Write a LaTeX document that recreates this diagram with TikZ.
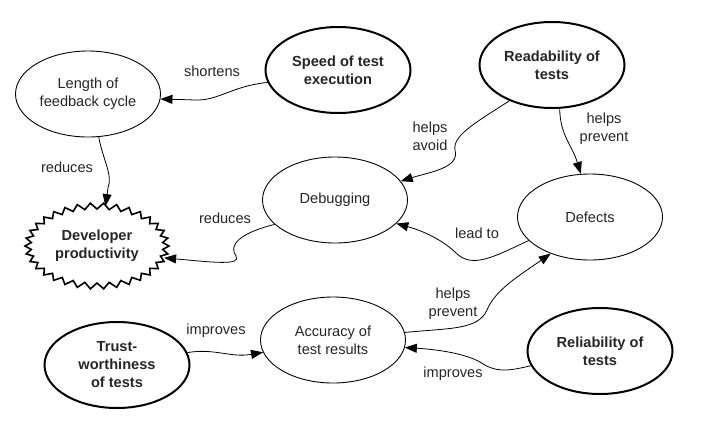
\documentclass[tikz,border=0pt]{standalone}
\usepackage{fontspec}
\setmainfont{Liberation Sans}
\usetikzlibrary{arrows.meta,shapes.geometric}
\begin{document}
\begin{tikzpicture}[x=1pt,y=-1pt,
  every node/.style={font=\fontsize{14.6}{18}\selectfont, text=black!85},
  concept/.style={ellipse, draw, line width=0.9pt, minimum width=145pt, minimum height=86pt, inner sep=0pt, align=center},
  keyconcept/.style={concept, line width=2pt, font=\fontsize{14.6}{18}\selectfont\bfseries},
  link/.style={draw, line width=0.8pt, -{Triangle[length=12pt,width=9pt]}},
  lbl/.style={align=center, inner sep=0pt}]
\useasboundingbox[fill=white] (0,0) rectangle (720,421);

% nodes
\node[concept] (length) at (88,94) {Length of\\feedback cycle};
\node[keyconcept] (speed) at (338,70) {Speed of test\\execution};
\node[keyconcept] (read) at (552,65) {Readability of\\tests};
\node[concept] (debug) at (335,200) {Debugging};
\node[concept] (defects) at (590,217) {Defects};
\node[ellipse, inner sep=0pt, minimum width=140pt, minimum height=80pt, align=center,
      font=\fontsize{14.6}{18}\selectfont\bfseries] (devprod) at (97,246) {Developer\\productivity};
\draw[line width=1.6pt, line join=miter]
  plot[samples at={0,...,67}] ({97+(72-6*mod(\x,2))*cos(\x*5.2941176)}, {246+(43-6*mod(\x,2))*sin(\x*5.2941176)}) -- cycle;
\node[concept] (acc) at (333,340) {Accuracy of\\test results};
\node[keyconcept] (trust) at (117,365) {Trust-\\worthiness\\of tests};
\node[keyconcept] (rel) at (600,351) {Reliability of\\tests};

% connectors
\draw[link] (speed.190) .. controls (232,86) and (218,101) .. (195,100) .. controls (180,99.5) .. (length.-4);
\draw[link] (length.-76) .. controls (103,160) and (113,175) .. (108,188) -- (devprod.78);
\draw[link] (debug.202) .. controls (240,233) and (228,245) .. (236,256) .. controls (242,266) and (210,262) .. (devprod.-10);
\draw[link] (read.220) .. controls (480,120) and (452,135) .. (455,150) .. controls (460,168) and (430,172) .. (debug.16);
\draw[link] (read.-80) .. controls (560,135) and (572,145) .. (defects.102);
\draw[link] (defects.201) .. controls (495,256) and (472,270) .. (455,252) .. controls (440,238) and (420,230) .. (debug.-21);
\draw[link] (acc.6) .. controls (450,328) and (478,330) .. (487,310) .. controls (495,290) and (520,275) .. (defects.223);
\draw[link] (rel.192) .. controls (505,372) and (495,372) .. (480,362) .. controls (462,352) and (430,349) .. (acc.-6);
\draw[link] (trust.10) .. controls (215,348) and (230,358) .. (acc.190);

% labels
\node[lbl] (lshort) at (212,71) {shortens};
\node[lbl] (lred1) at (67,167) {reduces};
\node[lbl] (lavoid) at (430,136) {helps\\avoid};
\node[lbl] (lprev1) at (604,129) {helps\\prevent};
\node[lbl] (lred2) at (225,218) {reduces};
\node[lbl] (llead) at (477,233) {lead to};
\node[lbl] (lprev2) at (453,304) {helps\\prevent};
\node[lbl] (limp1) at (216,331) {improves};
\node[lbl] (limp2) at (453,374) {improves};
\end{tikzpicture}
\end{document}
